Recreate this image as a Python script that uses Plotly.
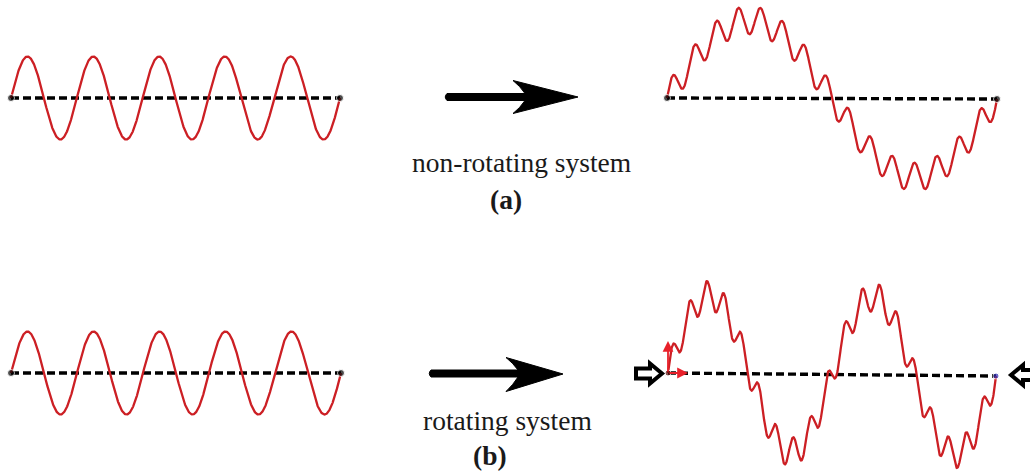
import numpy as np
import plotly.graph_objects as go

# ---- wave parameters -------------------------------------------------
# input wave (same in both rows): plain sine
input_cycles = [5, 5]
input_amplitude = [41.5, 41.5]

# output waves: carrier + superposed ripple, row (a) and row (b)
carrier_cycles = [1, 2]
carrier_amplitude = [78, 78]
ripple_cycles = [15, 19]
ripple_amplitude = [14, 14.5]

labels_system = ["non-rotating system", "rotating system"]
labels_panel = ["(a)", "(b)"]

# ---- canvas geometry (pixel frame) ------------------------------------
W, H = 1030, 472
row_base = [98, 373]                   # baseline height of each row
in_span = [(11, 340), (11, 341)]       # x extent of the input waves
out_span = [(667, 997), (668, 996)]    # x extent of the output waves
out_tilt = [1, 3]                      # baseline drop across the output span

RED = "#cc1f24"
N = 1200

fig = go.Figure()
end_points = []   # (x list, y list, colors, sizes) drawn last, on top


def add_baseline(x0, x1, y0, y1, end_colors=("black", "black"), sizes=(7, 7)):
    fig.add_trace(go.Scatter(
        x=[x0, x1], y=[y0, y1], mode="lines",
        line=dict(color="black", width=3.4, dash="8px,4px"),
        hoverinfo="skip", showlegend=False))
    end_points.append(([x0, x1], [y0, y1], list(end_colors), list(sizes)))


for r in range(2):
    # input wave
    x0, x1 = in_span[r]
    t = np.linspace(0, 1, N)
    xs = x0 + (x1 - x0) * t
    ys = row_base[r] - input_amplitude[r] * np.sin(2 * np.pi * input_cycles[r] * t)
    add_baseline(x0, x1, row_base[r], row_base[r])
    fig.add_trace(go.Scatter(x=xs, y=ys, mode="lines",
                             line=dict(color=RED, width=2.3),
                             hoverinfo="skip", showlegend=False))

    # output wave
    x0, x1 = out_span[r]
    xs = x0 + (x1 - x0) * t
    base = row_base[r] + out_tilt[r] * t
    ys = base - (carrier_amplitude[r] * np.sin(2 * np.pi * carrier_cycles[r] * t)
                 + ripple_amplitude[r] * np.sin(2 * np.pi * ripple_cycles[r] * t))
    if r == 0:
        add_baseline(x0, x1, row_base[r], row_base[r] + out_tilt[r])
    else:
        add_baseline(x0, x1, row_base[r], row_base[r] + out_tilt[r],
                     end_colors=("#5a1010", "#2c2cb4"), sizes=(6, 6))
    fig.add_trace(go.Scatter(x=xs, y=ys, mode="lines",
                             line=dict(color=RED, width=2.3),
                             hoverinfo="skip", showlegend=False))

for xs, ys, cols, sz in end_points:
    fig.add_trace(go.Scatter(x=xs, y=ys, mode="markers",
                             marker=dict(color=cols, size=sz),
                             hoverinfo="skip", showlegend=False))

# ---- big transformation arrows ----------------------------------------
arrow_paths = [
    "M 447,93.5 L 525,93.5 Q 520,86 513,80.5 L 578,97 L 513,113.5 "
    "Q 520,108 525,100.5 L 447,100.5 Q 443.5,97 447,93.5 Z",
    "M 431,370 L 518,370 Q 513,363 506,357.5 L 563,374 L 506,391.5 "
    "Q 513,385 518,377 L 431,377 Q 427.5,373.5 431,370 Z",
]
for p in arrow_paths:
    fig.add_shape(type="path", path=p, xref="x", yref="y",
                  fillcolor="black", line=dict(color="black", width=1))

# ---- hollow block arrows (rotating system inlet/outlet) ---------------
block_paths = [
    "M 636,368.5 L 650,368.5 L 650,363.5 L 662,373.5 L 650,383.5 "
    "L 650,378.5 L 636,378.5 Z",
    "M 1040,370 L 1023,370 L 1023,365 L 1011,375 L 1023,385 "
    "L 1023,380 L 1040,380 Z",
]
for p in block_paths:
    fig.add_shape(type="path", path=p, xref="x", yref="y",
                  fillcolor="white", line=dict(color="black", width=4))

# ---- small red reference vectors at the start of the rotating wave ----
for (ax, ay, x, y) in [(668, 373, 668, 341), (668, 373, 688, 373)]:
    fig.add_annotation(x=x, y=y, ax=ax, ay=ay, xref="x", yref="y",
                       axref="x", ayref="y", text="", showarrow=True,
                       arrowhead=2, arrowsize=1.2, arrowwidth=1.8,
                       arrowcolor="#e8202a")

# ---- captions -----------------------------------------------------------
cap_pos = [(521, 162), (507, 420)]
tag_pos = [(506, 199), (490, 455)]
for r in range(2):
    fig.add_annotation(x=cap_pos[r][0], y=cap_pos[r][1], text=labels_system[r],
                       showarrow=False, xref="x", yref="y",
                       font=dict(family="Liberation Serif", size=27.5, color="#1a1a1a"))
    fig.add_annotation(x=tag_pos[r][0], y=tag_pos[r][1], text="<b>%s</b>" % labels_panel[r],
                       showarrow=False, xref="x", yref="y",
                       font=dict(family="Liberation Serif", size=27.5, color="#1a1a1a"))

fig.update_layout(
    width=W, height=H,
    margin=dict(l=0, r=0, t=0, b=0),
    paper_bgcolor="white", plot_bgcolor="white",
    xaxis=dict(range=[0, W], visible=False, fixedrange=True),
    yaxis=dict(range=[H, 0], visible=False, fixedrange=True),
    showlegend=False,
)

fig.write_html("out.html")
